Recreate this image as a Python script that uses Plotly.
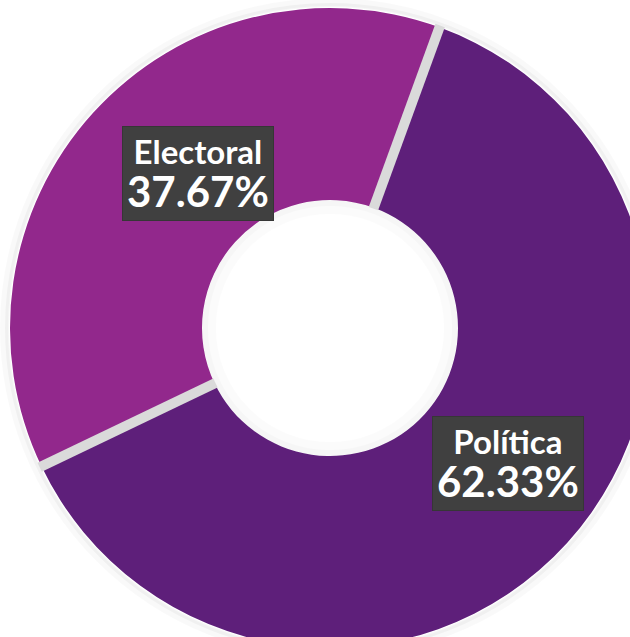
import math
import plotly.graph_objects as go

labels = ["Política", "Electoral"]
values = [62.33, 37.67]
colors = ["#5E1F7A", "#92288C"]

ROT = 20.0
HOLE = 0.4
W, H = 650, 650
ML, MT = 10, 8
SIZE = 640  # plot area side (px)
R_OUT = SIZE / 2

fig = go.Figure()
fig.add_trace(go.Pie(
    labels=labels, values=values, sort=False, direction="clockwise",
    rotation=ROT, hole=HOLE, marker=dict(colors=colors, line=dict(width=0)),
    textinfo="none", hoverinfo="label+percent", showlegend=False,
    domain=dict(x=[0, 1], y=[0, 1]),
))

def pt(angle_deg, r_px):
    a = math.radians(angle_deg)
    return 0.5 + r_px * math.sin(a) / SIZE, 0.5 + r_px * math.cos(a) / SIZE

total = sum(values)
shapes = []
# soft outer shadow and inner hole shadow
for rr_add, w_, c_ in [(6, 8, "rgba(0,0,0,0.025)"), (3, 4, "rgba(0,0,0,0.035)")]:
    rr = R_OUT + rr_add
    shapes.append(dict(type="circle", xref="paper", yref="paper", layer="below",
                       x0=0.5 - rr / SIZE, x1=0.5 + rr / SIZE,
                       y0=0.5 - rr / SIZE, y1=0.5 + rr / SIZE,
                       line=dict(color=c_, width=w_)))
rh = HOLE * R_OUT
for w_, c_ in [(14, "rgba(0,0,0,0.015)"), (6, "rgba(0,0,0,0.02)")]:
    rr = rh - w_ / 2
    shapes.append(dict(type="circle", xref="paper", yref="paper", layer="above",
                       x0=0.5 - rr / SIZE, x1=0.5 + rr / SIZE,
                       y0=0.5 - rr / SIZE, y1=0.5 + rr / SIZE,
                       line=dict(color=c_, width=w_)))
# separators between slices
ang = ROT
bounds = []
for v in values:
    bounds.append(ang)
    ang += 360 * v / total
for b in bounds:
    x0, y0 = pt(b, rh - 1)
    x1, y1 = pt(b, R_OUT + 2)
    shapes.append(dict(type="line", xref="paper", yref="paper", layer="above",
                       x0=x0, y0=y0, x1=x1, y1=y1,
                       line=dict(color="#DADADA", width=10)))

# labels
annotations = []
ang = ROT
label_r = (HOLE * R_OUT + R_OUT) / 2
offsets = {"Política": (88, -33), "Electoral": (-42, 52)}
for lab, v in zip(labels, values):
    mid = ang + 180 * v / total
    ang += 360 * v / total
    x, y = pt(mid, label_r)
    dx, dy = offsets[lab]
    txt = f"<b>{lab}</b><br><b><span style='font-size:42px'>{v:.2f}%</span></b>"
    annotations.append(dict(xref="paper", yref="paper", x=x, y=y, text=txt,
                            showarrow=False, xshift=dx, yshift=dy,
                            bgcolor="#404040", borderpad=4,
                            bordercolor="#363636", borderwidth=1,
                            font=dict(color="white", size=33, family="Lato")))

fig.update_layout(width=W, height=H, margin=dict(l=ML, r=W - ML - SIZE, t=MT, b=H - MT - SIZE),
                  paper_bgcolor="white", plot_bgcolor="white",
                  shapes=shapes, annotations=annotations)

fig.write_html("out.html", config={"displayModeBar": False},
               post_script="document.body.style.margin='0';document.body.style.overflow='hidden';document.documentElement.style.overflow='hidden';")
